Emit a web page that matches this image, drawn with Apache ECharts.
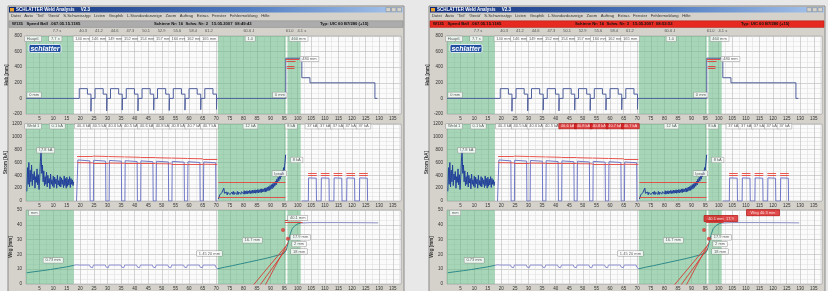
<!DOCTYPE html>
<html>
<head>
<meta charset="utf-8">
<script src="https://cdn.jsdelivr.net/npm/echarts@6/dist/echarts.min.js"></script>
<style>
html, body { margin: 0; padding: 0; background: #e8e8e8; }
#chart { width: 828px; height: 291px; }
</style>
</head>
<body>
<div id="chart"></div>
<script>
// ---------- Daten ----------
const greenZones = [[0, 17.6], [70.6, 95.6], [96.2, 101.1]]

// Hub (Panel 1)
const strokeLine = [
    [0, 0], [19.6, 0],
    [19.6, 125], [22.6, 125], [22.6, 55], [23.9, 55], [23.9, -165], [24.0, 0], [25.4, 0],
    [25.4, 125], [28.4, 125], [28.4, 55], [29.7, 55], [29.7, -160], [29.8, 0], [31.1, 0],
    [31.1, 125], [34.1, 125], [34.1, 55], [35.4, 55], [35.4, -150], [35.5, 0], [36.9, 0],
    [36.9, 125], [39.9, 125], [39.9, 55], [41.2, 55], [41.2, -160], [41.3, 0], [42.7, 0],
    [42.7, 125], [45.7, 125], [45.7, 55], [47.0, 55], [47.0, -150], [47.1, 0], [48.4, 0],
    [48.4, 125], [51.4, 125], [51.4, 55], [52.7, 55], [52.7, -155], [52.8, 0], [54.2, 0],
    [54.2, 125], [57.2, 125], [57.2, 55], [58.5, 55], [58.5, -150], [58.6, 0], [60.0, 0],
    [60.0, 125], [63.0, 125], [63.0, 55], [64.3, 55], [64.3, -145], [64.4, 0], [65.8, 0],
    [65.8, 125], [68.8, 125], [68.8, 55], [70.1, 55], [70.1, -140], [70.2, 0],
    [95.6, 0], [95.6, 515], [101.5, 515], [101.5, 265], [104.5, 265], [104.5, 200],
    [128.4, 200], [128.4, 0], [129.3, 0]
]
const strokeMarks = [
    [[95.6, 505], [100.6, 505]], [[95.8, 470], [99.2, 470]],
    [[96.0, 410], [98.8, 410]], [[96.0, 385], [98.8, 385]]
]
const strokeHeader = [
    [11.4, '7.7 s'], [21.0, '40.3'], [26.8, '41.2'], [32.6, '44.6'], [38.4, '47.3'], [44.2, '50.1'],
    [49.9, '52.9'], [55.7, '55.6'], [61.5, '58.4'], [67.3, '61.2'], [82.0, '60.6 J'], [97.0, '61.0'], [101.5, '4.1 s']
]
const strokeBoxes = [
    [2.6, 'Hauptl.'], [10.8, '7.7 s'], [20.8, '140 mm'], [26.9, '146 mm'], [32.8, '149 mm'], [38.7, '152 mm'],
    [44.6, '154 mm'], [50.5, '157 mm'], [56.2, '160 mm'], [61.9, '162 mm'], [67.4, '165 mm'], [82.5, '1.0'], [100.3, '460 mm']
]
const strokeNotes = [[3.0, 45, '0 mm'], [93.4, 45, '0 mm'], [104.3, 505, '480 mm']]

// Strom (Panel 2)
const noise1Start = 0.3
const noise1Step = 0.25
const currentNoise1 = [
    150, 520, 260, 600, 220, 480, 300, 560, 240, 420,
    330, 460, 200, 380, 290, 500, 250, 410, 180, 360,
    620, 790, 430, 560, 300, 470, 240, 380, 260, 450,
    220, 400, 280, 350, 190, 420, 260, 330, 230, 390,
    210, 370, 270, 340, 200, 400, 250, 320, 230, 380,
    220, 360, 260, 330, 210, 390, 240, 350, 200, 370,
    230, 340, 250, 380, 210, 350, 260, 330, 240, 300
]
const noise2Start = 70.8
const noise2Step = 0.25
const currentNoise2 = [
    30, 60, 95, 110, 90, 130, 100, 150, 200, 120,
    150, 100, 140, 95, 135, 105, 145, 100, 130, 110,
    140, 105, 150, 100, 135, 110, 145, 105, 150, 100,
    140, 110, 155, 105, 145, 115, 150, 110, 160, 105,
    150, 115, 160, 110, 155, 120, 165, 115, 160, 120,
    170, 120, 165, 125, 175, 120, 170, 130, 180, 125,
    175, 135, 185, 130, 190, 140, 185, 145, 200, 140,
    205, 150, 215, 160, 225, 165, 240, 180, 255, 190,
    270, 210, 290, 230, 310, 250, 340, 280, 370, 310,
    400, 340, 430, 380, 470, 420, 520, 480, 600, 720
]
const currentPulses = [
    [18.6, 0], [19.0, 0], [19.1, 640], [23.5, 625], [23.6, 0],
    [24.8, 0], [24.9, 635], [29.3, 622], [29.4, 0],
    [30.6, 0], [30.7, 632], [35.1, 620], [35.2, 0],
    [36.4, 0], [36.5, 628], [40.9, 615], [41.0, 0],
    [42.2, 0], [42.3, 625], [46.7, 612], [46.8, 0],
    [47.9, 0], [48.0, 620], [52.4, 608], [52.5, 0],
    [53.7, 0], [53.8, 618], [58.2, 605], [58.3, 0],
    [59.5, 0], [59.6, 612], [64.0, 600], [64.1, 0],
    [65.3, 0], [65.4, 608], [69.8, 596], [69.9, 0], [70.5, 0]
]
const currentPost = [
    [101.5, 0], [103.9, 0], [104.0, 360], [106.8, 356], [106.9, 0],
    [108.6, 0], [108.7, 360], [111.5, 356], [111.6, 0],
    [113.3, 0], [113.4, 360], [116.2, 356], [116.3, 0],
    [118.0, 0], [118.1, 360], [120.9, 356], [121.0, 0],
    [122.7, 0], [122.8, 360], [125.6, 356], [125.7, 0]
]
const currentLimits = [
    [[18.8, 705], [24.6, 699]], [[24.7, 699], [30.4, 693]], [[30.5, 693], [36.2, 687]],
    [[36.3, 687], [42.0, 681]], [[42.1, 681], [47.7, 675]], [[47.8, 675], [53.5, 669]],
    [[53.6, 669], [59.3, 663]], [[59.4, 663], [65.1, 657]], [[65.2, 657], [70.4, 651]],
    [[18.8, 598], [24.6, 594]], [[24.7, 594], [30.4, 591]], [[30.5, 591], [36.2, 588]],
    [[36.3, 588], [42.0, 585]], [[42.1, 585], [47.7, 582]], [[47.8, 582], [53.5, 579]],
    [[53.6, 579], [59.3, 576]], [[59.4, 576], [65.1, 573]], [[65.2, 573], [70.4, 570]],
    [[70.8, 300], [95.5, 300]], [[70.8, 52], [95.5, 52]],
    [[103.8, 432], [107.0, 432]], [[103.8, 398], [107.0, 398]],
    [[108.5, 432], [111.7, 432]], [[108.5, 398], [111.7, 398]],
    [[113.2, 432], [116.4, 432]], [[113.2, 398], [116.4, 398]],
    [[117.9, 432], [121.1, 432]], [[117.9, 398], [121.1, 398]],
    [[122.6, 432], [125.8, 432]], [[122.6, 398], [125.8, 398]]
]
const currentBoxes = [
    [2.6, 'Weld 1'], [11.5, '0.1 kA'], [21.2, '40.4 kA'], [27.0, '40.5 kA'], [32.8, '40.6 kA'],
    [38.6, '40.5 kA'], [44.4, '40.6 kA'], [50.2, '40.8 kA'], [56.0, '40.8 kA'], [61.8, '40.7 kA'],
    [67.5, '40.7 kA'], [82.6, '12 kA'], [97.6, '8 kA'],
    [105.4, '37 kA'], [110.1, '37 kA'], [114.8, '37 kA'], [119.5, '37 kA'], [124.2, '37 kA']
]
const currentRedBoxes = [6, 7, 8, 9, 10]   // rechts rot markiert (Index in currentBoxes)
const currentNotes = [[7.2, 790, 'I 7.8 kA'], [93.2, 430, 'Ipeak'], [99.6, 640, '8 kA']]

// Weg (Panel 3)
const posGreen1 = [[0.3, 7.6], [3, 8.3], [6, 9.0], [9, 9.8], [12, 10.7], [15, 11.6], [17.6, 12.6]]
const posWhite = [
    [17.6, 12.6], [18.5, 13.0], [19.2, 12.2], [19.6, 12.8],
    [23.4, 12.8], [23.7, 11.4], [24.1, 10.4], [24.5, 11.0], [24.8, 12.8],
    [29.2, 12.8], [29.5, 11.4], [29.9, 10.4], [30.3, 11.0], [30.6, 12.8],
    [34.9, 12.8], [35.2, 11.4], [35.6, 10.4], [36.0, 11.0], [36.3, 12.8],
    [40.7, 12.8], [41.0, 11.4], [41.4, 10.4], [41.8, 11.0], [42.1, 12.8],
    [46.5, 12.8], [46.8, 11.4], [47.2, 10.4], [47.6, 11.0], [47.9, 12.8],
    [52.2, 12.8], [52.5, 11.4], [52.9, 10.4], [53.3, 11.0], [53.6, 12.8],
    [58.0, 12.8], [58.3, 11.4], [58.7, 10.4], [59.1, 11.0], [59.4, 12.8],
    [63.8, 12.8], [64.1, 11.4], [64.5, 10.4], [64.9, 11.0], [65.2, 12.8],
    [69.6, 12.8], [69.9, 11.2], [70.3, 10.3], [70.6, 10.3]
]
const posGreen2 = [
    [70.6, 10.3], [73, 11.3], [76, 12.4], [79, 13.6], [82, 14.8], [85, 16.0], [88, 17.2],
    [91, 18.6], [93, 19.6], [95, 20.8], [95.8, 23], [96.5, 28], [97.3, 34], [98, 37.5],
    [99, 39.5], [100, 40.6], [101.1, 41.2]
]
const posEnd = [[101.1, 41.2], [105, 41.5], [115, 41.5], [125, 41.4], [129.6, 41.3]]
const posMarks = [
    [[82.6, -3], [95.6, 25.5]], [[85.2, -3], [95.9, 24.0]], [[87.4, -3], [96.4, 28.0]],
    [[95.3, 43.2], [101.8, 43.2]], [[95.3, 41.8], [101.8, 41.8]]
]
const posDots = [[94.6, 36.5], [96.4, 30.5]]
const posNotes = [
    [3.0, 48, 'mm'], [10.0, 16, '0.73 mm'], [67.5, 20.6, '1.45 20 mm'], [83.3, 29.5, '16.7 mm'],
    [101.0, 31.5, '17.9 mm'], [100.5, 27, '2 mm'], [100.5, 22, '18 mm']
]
const posTopNoteL = [[100.0, 44.6, '40.1 mm']]
const posTopNoteR = [[100.8, 44.2, '40.1 mm  17.9'], [116.3, 48.2, 'Weg 40.3 mm']]

const menuText = 'Datei   Auto   \'Teil\'   \'Gerät\'   S.Schweisstyp   Listen   Graphik   L.Standardanzeige   Zoom   Auftrag   Extras   Fenster   Fehlermeldung   Hilfe'
const statusL = ['W135   Speed Ball  .067.05.15.1185', 'Schiene Nr: 16  Schw. Nr: 2   15.05.2007  08:49:43', 'Typ: UIC 60 B7/280 (+15)']
const statusR = ['W135   Speed Ball  .067.05.15.1185', 'Schiene Nr: 16  Schw. Nr: 3   15.05.2007  08:53:53', 'Typ: UIC 60 B7/280 (+15)']

// ---------- Aufbau ----------
const FONT = 'Liberation Sans, Arial, sans-serif'
const GREEN = 'rgba(96, 184, 128, 0.55)'
const TXT = '#333'
const panels = [
    { top: 36, height: 78, min: -200, max: 800, interval: 200, name: 'Hub [mm]' },
    { top: 124, height: 77, min: 0, max: 1200, interval: 200, name: 'Strom [kA]' },
    { top: 210, height: 75, min: 0, max: 50, interval: 10, name: 'Weg [mm]' }
]
const toPts = (start, step, arr) => arr.map((v, i) => [+(start + i * step).toFixed(2), v])

const grid = [], xAxis = [], yAxis = [], series = [], graphic = []

function labelSeries(idx, items, y, opt) {
    opt = opt || {}
    return {
        type: 'scatter', xAxisIndex: idx, yAxisIndex: idx, symbolSize: 0, clip: false, silent: true, z: 10,
        data: items.map((it, i) => {
            const d = { value: [it[0], y !== null ? y : it[1], it[it.length - 1]] }
            if (opt.red && opt.red.indexOf(i) >= 0) {
                d.label = { backgroundColor: '#d81f1f', color: '#fff', borderColor: '#a01010' }
            }
            return d
        }),
        label: {
            show: true, position: 'inside', formatter: p => p.data.value[2],
            fontSize: 4, fontFamily: FONT, color: TXT,
            backgroundColor: opt.plain ? 'transparent' : (opt.bg || '#fff'),
            borderColor: opt.plain ? 'transparent' : (opt.border || '#8a8a8a'), borderWidth: 0.5,
            padding: opt.pad || [0.5, 2]
        }
    }
}

function lineSeries(idx, data, color, width, withArea) {
    const s = {
        type: 'line', xAxisIndex: idx, yAxisIndex: idx, data: data, showSymbol: false, silent: true,
        lineStyle: { color: color, width: width || 1 }, z: 5, animation: false
    }
    if (withArea) {
        s.markArea = {
            silent: true, itemStyle: { color: GREEN },
            data: greenZones.map(z => [{ xAxis: z[0] }, { xAxis: z[1] }])
        }
    }
    return s
}

function segSeries(idx, segs, color) {
    return {
        type: 'lines', coordinateSystem: 'cartesian2d', xAxisIndex: idx, yAxisIndex: idx, silent: true, z: 6,
        lineStyle: { color: color, width: 1, opacity: 0.9 },
        data: segs.map(s => ({ coords: s }))
    }
}

function buildWindow(w, left, red) {
    const x0 = left - 18
    // Fensterrahmen
    graphic.push(
        { type: 'rect', z: -10, shape: { x: x0, y: 6, width: 396, height: 290 }, style: { fill: '#d5d2cb', stroke: '#8a8a8a', lineWidth: 1 } },
        { type: 'rect', z: -9, shape: { x: x0 + 1, y: 7, width: 394, height: 5.5 },
          style: { fill: new echarts.graphic.LinearGradient(0, 0, 1, 0, [{ offset: 0, color: '#0c2a78' }, { offset: 0.6, color: '#4f7cc2' }, { offset: 1, color: '#a9c6ec' }]) } },
        { type: 'rect', z: -8, shape: { x: x0 + 2, y: 8, width: 4, height: 3.5 }, style: { fill: '#e8a030' } },
        { type: 'text', z: 20, x: x0 + 8, y: 7.3, style: { text: 'SCHLATTER Weld Analysis     V2.3', fill: '#fff', font: 'bold 4.5px ' + FONT } },
        { type: 'rect', z: -8, shape: { x: x0 + 378, y: 7.6, width: 4.5, height: 4 }, style: { fill: '#d5d2cb', stroke: '#555', lineWidth: 0.3 } },
        { type: 'rect', z: -8, shape: { x: x0 + 383.5, y: 7.6, width: 4.5, height: 4 }, style: { fill: '#d5d2cb', stroke: '#555', lineWidth: 0.3 } },
        { type: 'rect', z: -8, shape: { x: x0 + 389, y: 7.6, width: 4.5, height: 4 }, style: { fill: '#d5d2cb', stroke: '#555', lineWidth: 0.3 } },
        { type: 'text', z: 20, x: x0 + 3, y: 14.2, style: { text: menuText, fill: TXT, font: '4.2px ' + FONT } },
        { type: 'rect', z: -8, shape: { x: x0 + 1, y: 20.8, width: 394, height: 6.6 }, style: { fill: red ? '#e62a21' : '#acacac', stroke: red ? '#b01810' : '#8a8a8a', lineWidth: 0.5 } }
    )
    const st = red ? statusR : statusL
    graphic.push(
        { type: 'text', z: 20, x: x0 + 4, y: 22.2, style: { text: st[0], fill: '#111', font: 'bold 4.2px ' + FONT } },
        { type: 'text', z: 20, x: x0 + 146, y: 22.2, style: { text: st[1], fill: '#111', font: 'bold 4.2px ' + FONT } },
        { type: 'text', z: 20, x: x0 + 312, y: 22.2, style: { text: st[2], fill: '#111', font: 'bold 4.2px ' + FONT } },
        // Logo
        { type: 'rect', z: 30, shape: { x: left + 3, y: 44.5, width: 32, height: 8, r: 1.5 }, style: { fill: '#1f4f9e', stroke: '#fff', lineWidth: 0.8 } },
        { type: 'text', z: 31, x: left + 19, y: 48.7, style: { text: 'schlatter', fill: '#fff', font: 'italic bold 7px ' + FONT, align: 'center', verticalAlign: 'middle' } }
    )

    panels.forEach((p, k) => {
        const idx = w * 3 + k
        grid.push({ left: left, top: p.top, width: 375, height: p.height, show: true, backgroundColor: '#fbfbfb', borderColor: '#9a9a9a', borderWidth: 0.5 })
        xAxis.push({
            gridIndex: idx, type: 'value', min: 0, max: 138, interval: 5,
            axisLine: { show: false }, axisTick: { show: false },
            axisLabel: { fontSize: 4.5, fontFamily: FONT, color: TXT, margin: 2, showMinLabel: false, showMaxLabel: false },
            splitLine: { lineStyle: { color: '#b9b9b9', width: 0.6 } },
            minorTick: { show: false, splitNumber: 2 },
            minorSplitLine: { show: true, lineStyle: { color: '#d9d9d9', width: 0.5 } }
        })
        yAxis.push({
            gridIndex: idx, type: 'value', min: p.min, max: p.max, interval: p.interval,
            name: p.name, nameLocation: 'middle', nameGap: 12, nameRotate: 90,
            nameTextStyle: { fontSize: 4.5, fontFamily: FONT, color: TXT, fontWeight: 'bold' },
            axisLine: { show: false }, axisTick: { show: false },
            axisLabel: { fontSize: 4.5, fontFamily: FONT, color: TXT, margin: 4, formatter: v => String(v) },
            splitLine: { lineStyle: { color: '#b9b9b9', width: 0.6 } },
            minorTick: { show: false, splitNumber: 3 },
            minorSplitLine: { show: true, lineStyle: { color: '#dedede', width: 0.5 } }
        })
    })

    const i0 = w * 3, i1 = w * 3 + 1, i2 = w * 3 + 2
    // Panel 1
    series.push(lineSeries(i0, strokeLine, '#4f5f9c', 1, true))
    series.push(segSeries(i0, strokeMarks, '#e0403a'))
    series.push(labelSeries(i0, strokeHeader, 860, { plain: true }))
    series.push(labelSeries(i0, strokeBoxes, 765, {}))
    series.push(labelSeries(i0, strokeNotes, null, {}))
    // Panel 2
    series.push(lineSeries(i1, toPts(noise1Start, noise1Step, currentNoise1), '#23409a', 1, true))
    series.push(lineSeries(i1, currentPulses, '#7078c6', 1, false))
    series.push(lineSeries(i1, toPts(noise2Start, noise2Step, currentNoise2), '#23409a', 1, false))
    series.push(lineSeries(i1, currentPost, '#7078c6', 1, false))
    series.push(segSeries(i1, currentLimits, '#e8453c'))
    series.push(labelSeries(i1, currentBoxes, 1165, { red: red ? currentRedBoxes : [] }))
    series.push(labelSeries(i1, currentNotes, null, {}))
    // Panel 3
    series.push(lineSeries(i2, posGreen1, '#2f8a8a', 1, true))
    series.push(lineSeries(i2, posWhite, '#8a8fd0', 1, false))
    series.push(lineSeries(i2, posGreen2, '#2f8a8a', 1, false))
    series.push(lineSeries(i2, posEnd, '#8a90c4', 1, false))
    series.push(segSeries(i2, posMarks, '#d83a34'))
    series.push({ type: 'scatter', xAxisIndex: i2, yAxisIndex: i2, data: posDots, symbolSize: 4, silent: true, z: 7, itemStyle: { color: '#d83a34' } })
    series.push(labelSeries(i2, posNotes, null, {}))
    if (red) {
        series.push(labelSeries(i2, posTopNoteR, null, { bg: '#d81f1f', border: '#a01010', red: [0, 1], pad: [1, 4] }))
    } else {
        series.push(labelSeries(i2, posTopNoteL, null, {}))
    }
}

buildWindow(0, 26, false)
buildWindow(1, 447, true)

const chart = echarts.init(document.getElementById('chart'), null, { renderer: 'canvas' })
chart.setOption({
    backgroundColor: '#e8e8e8',
    animation: false,
    textStyle: { fontFamily: FONT },
    grid: grid, xAxis: xAxis, yAxis: yAxis, series: series, graphic: graphic
})
</script>
</body>
</html>
